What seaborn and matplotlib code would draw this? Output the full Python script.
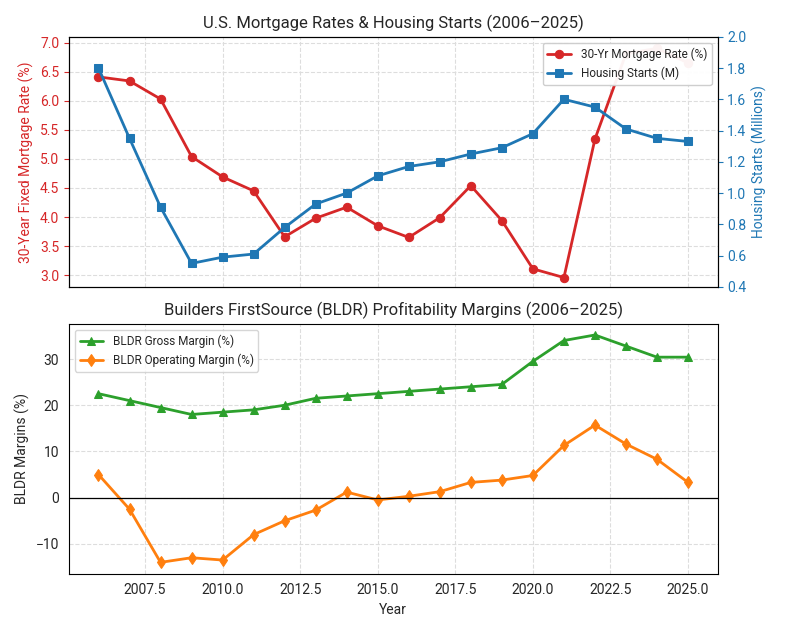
import numpy as np
import pandas as pd
import matplotlib
matplotlib.use("Agg")
import matplotlib.pyplot as plt
import seaborn as sns

# data
years = list(range(2006, 2026))
mortgage_rate = [6.41, 6.34, 6.03, 5.04, 4.69, 4.45, 3.66, 3.98, 4.17, 3.85,
                 3.65, 3.99, 4.54, 3.94, 3.11, 2.96, 5.34, 6.81, 6.90, 6.65]
housing_starts = [1.80, 1.35, 0.91, 0.55, 0.59, 0.61, 0.78, 0.93, 1.00, 1.11,
                  1.17, 1.20, 1.25, 1.29, 1.38, 1.60, 1.55, 1.41, 1.35, 1.33]
gross_margin = [22.5, 21.0, 19.5, 18.0, 18.5, 19.0, 20.0, 21.5, 22.0, 22.5,
                23.0, 23.5, 24.0, 24.5, 29.5, 34.0, 35.2, 32.8, 30.4, 30.4]
operating_margin = [5.0, -2.5, -14.0, -13.0, -13.5, -8.0, -5.0, -2.7, 1.2, -0.5,
                    0.3, 1.3, 3.3, 3.8, 4.8, 11.3, 15.7, 11.6, 8.3, 3.3]

df = pd.DataFrame({"Year": years, "rate": mortgage_rate, "starts": housing_starts,
                   "gross": gross_margin, "op": operating_margin})

sns.set_style("whitegrid", {"grid.linestyle": "--", "axes.edgecolor": "black"})
plt.rcParams["font.family"] = ["Roboto", "DejaVu Sans"]

red, blue, green, orange = "#d62728", "#1f77b4", "#2ca02c", "#ff7f0e"

fig, (ax1, ax3) = plt.subplots(2, 1, figsize=(7.9, 6.32), dpi=100, sharex=True)

# top panel
sns.lineplot(data=df, x="Year", y="rate", ax=ax1, color=red, marker="o", markersize=6,
             markeredgecolor=red, linewidth=2, label="30-Yr Mortgage Rate (%)", legend=False)
ax1.set_ylabel("30-Year Fixed Mortgage Rate (%)", color=red)
ax1.tick_params(axis="y", colors=red)
ax1.set_ylim(2.8, 7.1)
ax1.grid(color="#dddddd", linestyle="--")

ax2 = ax1.twinx()
sns.lineplot(data=df, x="Year", y="starts", ax=ax2, color=blue, marker="s", markersize=6,
             markeredgecolor=blue, linewidth=2, label="Housing Starts (M)", legend=False)
ax2.set_ylabel("Housing Starts (Millions)", color=blue)
ax2.tick_params(axis="y", colors=blue)
ax2.set_ylim(0.4, 2.0)
ax2.grid(False)

h1, l1 = ax1.get_legend_handles_labels()
h2, l2 = ax2.get_legend_handles_labels()
ax2.legend(h1 + h2, l1 + l2, loc="upper right", fontsize=8.5, framealpha=0.95)
ax1.set_title("U.S. Mortgage Rates & Housing Starts (2006\u20132025)")

# bottom panel
sns.lineplot(data=df, x="Year", y="gross", ax=ax3, color=green, marker="^",
             markeredgecolor=green, markersize=6, linewidth=2, label="BLDR Gross Margin (%)")
sns.lineplot(data=df, x="Year", y="op", ax=ax3, color=orange, marker="d",
             markeredgecolor=orange, markersize=6, linewidth=2, label="BLDR Operating Margin (%)")
ax3.axhline(0, color="black", linewidth=0.9)
ax3.set_ylabel("BLDR Margins (%)")
ax3.set_xlabel("Year")
ax3.set_title("Builders FirstSource (BLDR) Profitability Margins (2006\u20132025)")
ax3.legend(loc="upper left", fontsize=8.5)
ax3.grid(color="#dddddd", linestyle="--")
ax3.xaxis.set_major_formatter(matplotlib.ticker.FormatStrFormatter("%.1f"))
ax3.tick_params(axis="x", labelbottom=True)

plt.tight_layout()
plt.savefig("out.png")
